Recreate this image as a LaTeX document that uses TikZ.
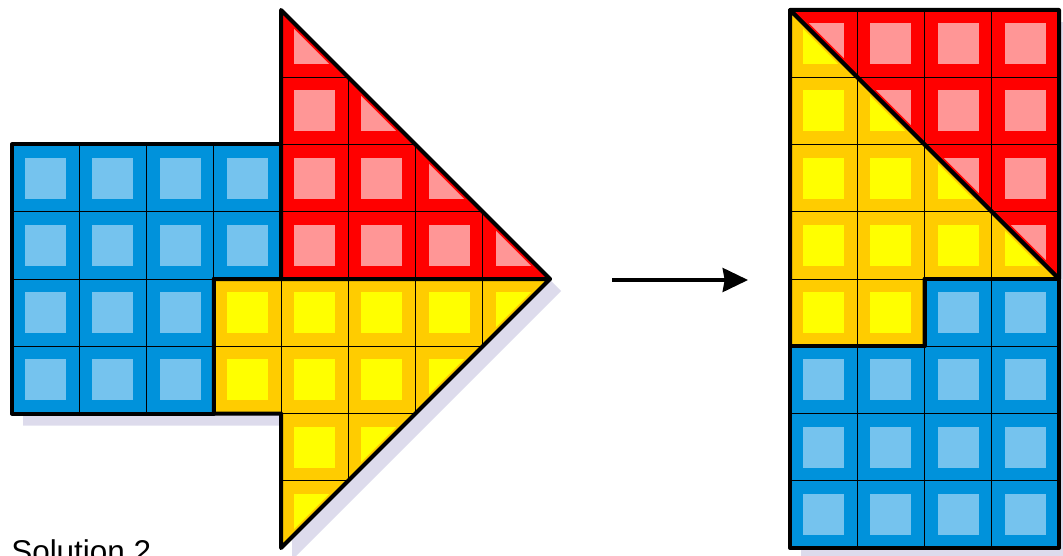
\documentclass[tikz,border=0pt]{standalone}
\usepackage{fontspec}
\setmainfont{Liberation Sans}
\usetikzlibrary{arrows.meta}
\definecolor{bdark}{RGB}{0,146,219}
\definecolor{blight}{RGB}{117,195,238}
\definecolor{rdark}{RGB}{255,0,0}
\definecolor{rlight}{RGB}{255,150,150}
\definecolor{ydark}{RGB}{255,204,0}
\definecolor{ylight}{RGB}{255,255,0}
\definecolor{shadowc}{RGB}{221,219,236}
\tikzset{
  outline/.style={draw=black,line width=3pt,line join=round},
  gridline/.style={draw=black,line width=0.7pt},
  cellunit/.style={x=50.4375pt,y=-50.4375pt},
  connector/.style={draw=black,line width=2.5pt,-{Stealth[length=19pt,width=18pt,inset=1.5pt]}},
  label/.style={font=\fontsize{23.6pt}{28pt}\selectfont,inner sep=0pt,anchor=base west}
}
\newcommand\myregion[3]{%
  \begin{scope}
    \clip #1 -- cycle;
    \fill[#2] #1 -- cycle;
    \foreach \i in {0,...,7}{\foreach \j in {0,...,7}{%
      \fill[#3] (\i+0.195,\j+0.195) rectangle (\i+0.805,\j+0.805);}}
    \draw[#2,line width=6pt] #1 -- cycle;
    \foreach \k in {1,...,7}{%
      \draw[gridline] (\k,0) -- (\k,8);
      \draw[gridline] (0,\k) -- (8,\k);}
  \end{scope}
  \draw[outline] #1 -- cycle;}
\begin{document}
\begin{tikzpicture}[x=0.75pt,y=-0.75pt]
\useasboundingbox (0,0) rectangle (1063,556);
% left figure
\begin{scope}[shift={(9pt,-7.5pt)},cellunit]
  \begin{scope}[shift={(8.25pt,-9pt)}]
    \fill[shadowc] (0,2) -- (4,2) -- (4,0) -- (8,4) -- (4,8) -- (4,6) -- (0,6) -- cycle;
  \end{scope}
  \myregion{(0,2) -- (4,2) -- (4,4) -- (3,4) -- (3,6) -- (0,6)}{bdark}{blight}
  \myregion{(4,0) -- (8,4) -- (4,4)}{rdark}{rlight}
  \myregion{(3,4) -- (8,4) -- (4,8) -- (4,6) -- (3,6)}{ydark}{ylight}
\end{scope}
% right figure
\begin{scope}[shift={(592.5pt,-7.5pt)},cellunit]
  \begin{scope}[shift={(8.25pt,-9pt)}]
    \fill[shadowc] (0,0) rectangle (4,8);
  \end{scope}
  \myregion{(0,0) -- (4,0) -- (4,4)}{rdark}{rlight}
  \myregion{(0,0) -- (4,4) -- (2,4) -- (2,5) -- (0,5)}{ydark}{ylight}
  \myregion{(2,4) -- (4,4) -- (4,8) -- (0,8) -- (0,5) -- (2,5)}{bdark}{blight}
\end{scope}
% arrow
\coordinate (a1) at (612,280);
\coordinate (a2) at (748,280);
\draw[connector] (a1) -- (a2);
% label
\node[label] (sol) at (11,562) {Solution 2};
\end{tikzpicture}
\end{document}
